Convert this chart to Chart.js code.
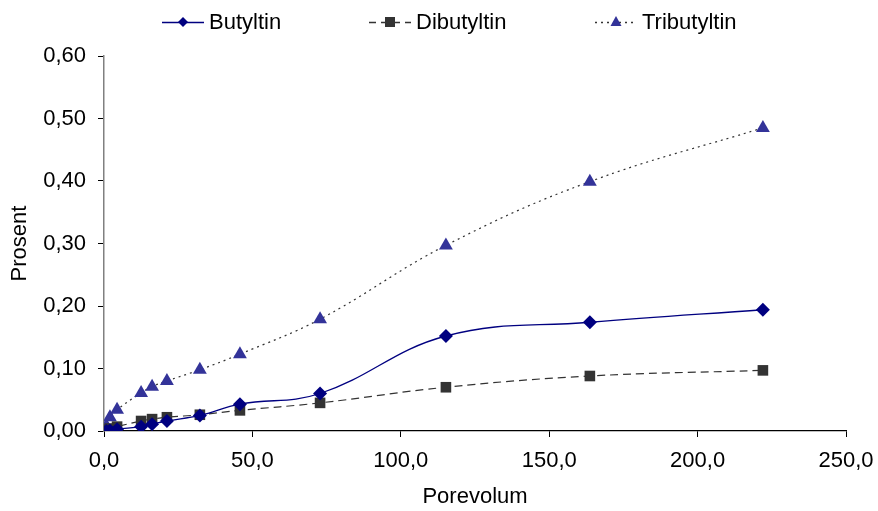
<!DOCTYPE html>
<html>
<head>
<meta charset="utf-8">
<script src="https://cdn.jsdelivr.net/npm/chart.js@4/dist/chart.umd.min.js"></script>
<style>
  html, body { margin: 0; padding: 0; background: #fff; }
  #wrap { width: 878px; height: 511px; }
</style>
</head>
<body>
<div id="wrap"><canvas id="graf" width="878" height="511"></canvas></div>
<script>
// porevolum (x) and prosent (y)
const porevolum = [0.8, 2.0, 4.4, 12.5, 16.2, 21.2, 32.3, 45.8, 72.8, 115.2, 163.7, 222.0];
const butyltin = [0.000, 0.001, 0.003, 0.007, 0.011, 0.016, 0.025, 0.043, 0.060, 0.152, 0.174, 0.194];
const dibutyltin = [0.002, 0.004, 0.007, 0.016, 0.019, 0.022, 0.026, 0.033, 0.045, 0.070, 0.088, 0.097];
const tributyltin = [0.008, 0.022, 0.034, 0.061, 0.071, 0.080, 0.098, 0.123, 0.179, 0.297, 0.399, 0.485];
const xTicks = [0, 50, 100, 150, 200, 250];
const yTicks = [0, 0.1, 0.2, 0.3, 0.4, 0.5, 0.6];

const pts = ys => porevolum.map((x, i) => ({ x: x, y: ys[i] }));
const komma = (v, d) => v.toFixed(d).replace('.', ',');
const FONT = 'Liberation Sans, Arial, sans-serif';

// legend drawn like the excel one: line + marker, then the name
const legendX = [183, 390, 616];
const excelLegend = {
  id: 'excelLegend',
  afterDraw(chart) {
    const g = chart.ctx;
    const y = 22;
    g.save();
    chart.data.datasets.forEach((ds, i) => {
      const cx = legendX[i];
      g.strokeStyle = ds.borderColor;
      g.lineWidth = 1.3;
      g.setLineDash(ds.legendDash);
      g.beginPath(); g.moveTo(cx - 21, y + 0.5); g.lineTo(cx + 21, y + 0.5); g.stroke();
      g.setLineDash([]);
      g.fillStyle = ds.pointBackgroundColor;
      g.beginPath();
      if (ds.pointStyle === 'rectRot') {
        g.moveTo(cx, y - 5); g.lineTo(cx + 5, y); g.lineTo(cx, y + 5); g.lineTo(cx - 5, y);
      } else if (ds.pointStyle === 'rect') {
        g.rect(cx - 5, y - 5, 10, 10);
      } else {
        g.moveTo(cx, y - 6); g.lineTo(cx + 5.5, y + 4); g.lineTo(cx - 5.5, y + 4);
      }
      g.closePath(); g.fill();
      g.fillStyle = '#000';
      g.font = '22px ' + FONT;
      g.textBaseline = 'middle';
      g.textAlign = 'left';
      g.fillText(ds.label, cx + 26, y + 1);
    });
    g.restore();
  }
};

new Chart(document.getElementById('graf'), {
  type: 'line',
  data: {
    datasets: [
      {
        label: 'Butyltin',
        data: pts(butyltin),
        borderColor: '#000080',
        borderWidth: 1.3,
        pointStyle: 'rectRot',
        pointRadius: 7,
        pointBackgroundColor: '#000080',
        pointBorderWidth: 0,
        tension: 0.4,
        legendDash: []
      },
      {
        label: 'Dibutyltin',
        data: pts(dibutyltin),
        borderColor: '#333333',
        borderWidth: 1.2,
        borderDash: [8, 5],
        pointStyle: 'rect',
        pointRadius: 7.5,
        pointBackgroundColor: '#333333',
        pointBorderWidth: 0,
        tension: 0.4,
        legendDash: [7, 5]
      },
      {
        label: 'Tributyltin',
        data: pts(tributyltin),
        borderColor: '#333333',
        borderWidth: 1.2,
        borderDash: [2, 4],
        pointStyle: 'triangle',
        pointRadius: 8,
        pointBackgroundColor: '#333399',
        pointBorderWidth: 0,
        tension: 0.4,
        legendDash: [2, 4]
      }
    ]
  },
  plugins: [excelLegend],
  options: {
    responsive: false,
    animation: false,
    layout: { padding: { left: 0, right: 32, top: 56, bottom: 0 } },
    plugins: {
      tooltip: { enabled: false },
      legend: { display: false }
    },
    scales: {
      x: {
        type: 'linear',
        min: 0,
        max: 250,
        afterBuildTicks: s => { s.ticks = xTicks.map(v => ({ value: v })); },
        afterFit: s => { s.height = 80; s.paddingLeft = 0; s.paddingRight = 0; },
        ticks: {
          color: '#000',
          font: { family: FONT, size: 22 },
          padding: 11,
          maxRotation: 0,
          callback: v => komma(v, 1)
        },
        grid: { drawOnChartArea: false, color: '#000', tickLength: 6 },
        border: { color: '#000', width: 1.3 },
        title: {
          display: true,
          text: 'Porevolum',
          color: '#000',
          font: { family: FONT, size: 22 },
          padding: { top: 0, bottom: 1 }
        }
      },
      y: {
        min: 0,
        max: 0.6,
        afterBuildTicks: s => { s.ticks = yTicks.map(v => ({ value: v })); },
        afterFit: s => { s.width = 104; s.paddingTop = 0; s.paddingBottom = 0; },
        ticks: {
          color: '#000',
          font: { family: FONT, size: 22 },
          padding: 12,
          callback: v => komma(v, 2)
        },
        grid: { drawOnChartArea: false, color: '#000', tickLength: 6 },
        border: { color: '#808080', width: 1.5 },
        title: {
          display: true,
          text: 'Prosent',
          color: '#000',
          font: { family: FONT, size: 22 },
          padding: { top: 7, bottom: 7 }
        }
      }
    }
  }
});
</script>
</body>
</html>
